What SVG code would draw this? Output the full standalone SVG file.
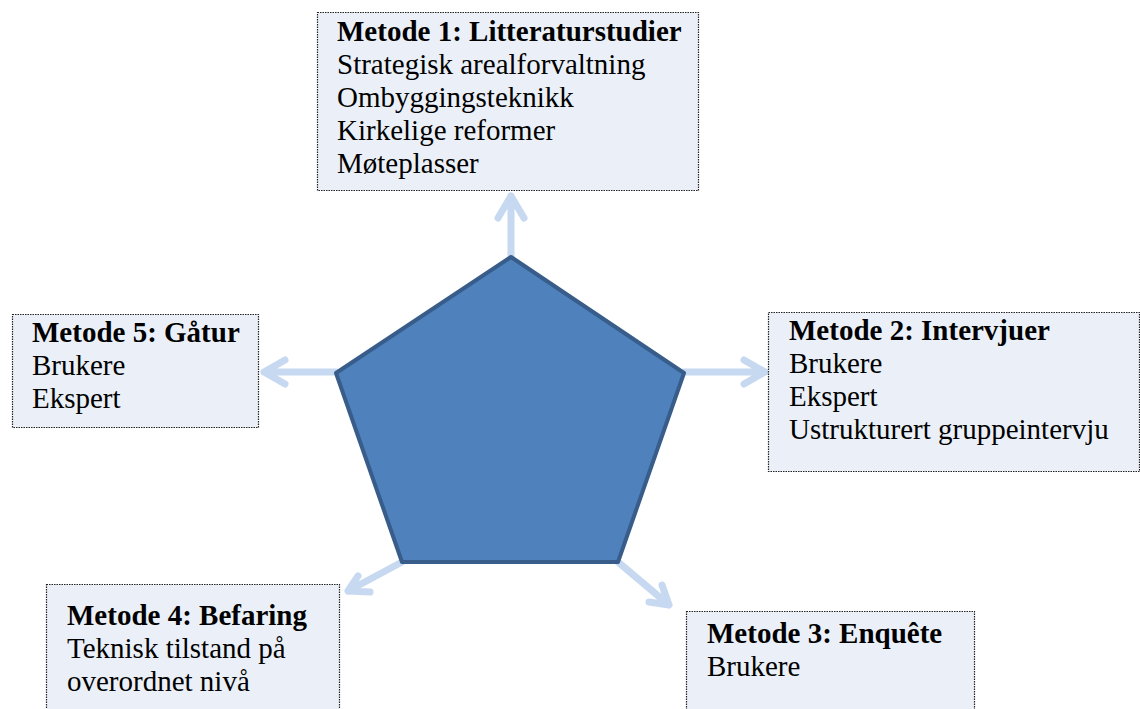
<svg xmlns="http://www.w3.org/2000/svg" width="1140" height="709" viewBox="0 0 1140 709">
<style>
.box{fill:#ebf0f8;stroke:#222;stroke-width:1.2;stroke-dasharray:1.5 1}
.t{font-family:"Liberation Serif","Times New Roman",serif;font-size:29px;fill:#000}
.b{font-weight:bold}
.arr{fill:none;stroke:#c6d9f1;stroke-width:7;stroke-linecap:round;stroke-linejoin:round}
</style>
<rect width="1140" height="709" fill="#fff"/>
<g id="connectors">
<path class="arr" d="M511,257 L511,196 M498,218 L511,196 L524,218"/>
<path class="arr" d="M336,372 L264,372 M285,360 L264,372 L285,384"/>
<path class="arr" d="M684,372 L765,372 M744,360 L765,372 L744,384"/>
<path class="arr" d="M402,562 L348,591 M358,576 L348,591 L370,592"/>
<path class="arr" d="M618,562 L669,605 M662,585 L669,605 L649,602"/>
</g>
<g id="center">
<polygon points="511,257 684,373 618,562 402,562 336,373" fill="#4f81bd" stroke="#385d8a" stroke-width="4" stroke-linejoin="round"/>
</g>
<g id="metode1">
<rect class="box" x="317.5" y="12.5" width="381" height="178"/>
<text class="t b" x="337" y="40.5">Metode 1: Litteraturstudier</text>
<text class="t" x="337" y="73.5">Strategisk arealforvaltning</text>
<text class="t" x="337" y="107">Ombyggingsteknikk</text>
<text class="t" x="337" y="140">Kirkelige reformer</text>
<text class="t" x="337" y="173">Møteplasser</text>
</g>
<g id="metode5">
<rect class="box" x="12.5" y="314.5" width="246" height="113"/>
<text class="t b" x="32" y="342">Metode 5: Gåtur</text>
<text class="t" x="32" y="375">Brukere</text>
<text class="t" x="32" y="408">Ekspert</text>
</g>
<g id="metode2">
<rect class="box" x="768.5" y="312.5" width="371" height="159"/>
<text class="t b" x="789" y="340">Metode 2: Intervjuer</text>
<text class="t" x="789" y="373">Brukere</text>
<text class="t" x="789" y="406">Ekspert</text>
<text class="t" x="789" y="439">Ustrukturert gruppeintervju</text>
</g>
<g id="metode4">
<rect class="box" x="46.5" y="584.5" width="293" height="130"/>
<text class="t b" x="67" y="625">Metode 4: Befaring</text>
<text class="t" x="67" y="658">Teknisk tilstand på</text>
<text class="t" x="67" y="691">overordnet nivå</text>
</g>
<g id="metode3">
<rect class="box" x="686.5" y="611.5" width="288" height="110"/>
<text class="t b" x="707" y="643">Metode 3: Enquête</text>
<text class="t" x="707" y="676">Brukere</text>
</g>
</svg>
